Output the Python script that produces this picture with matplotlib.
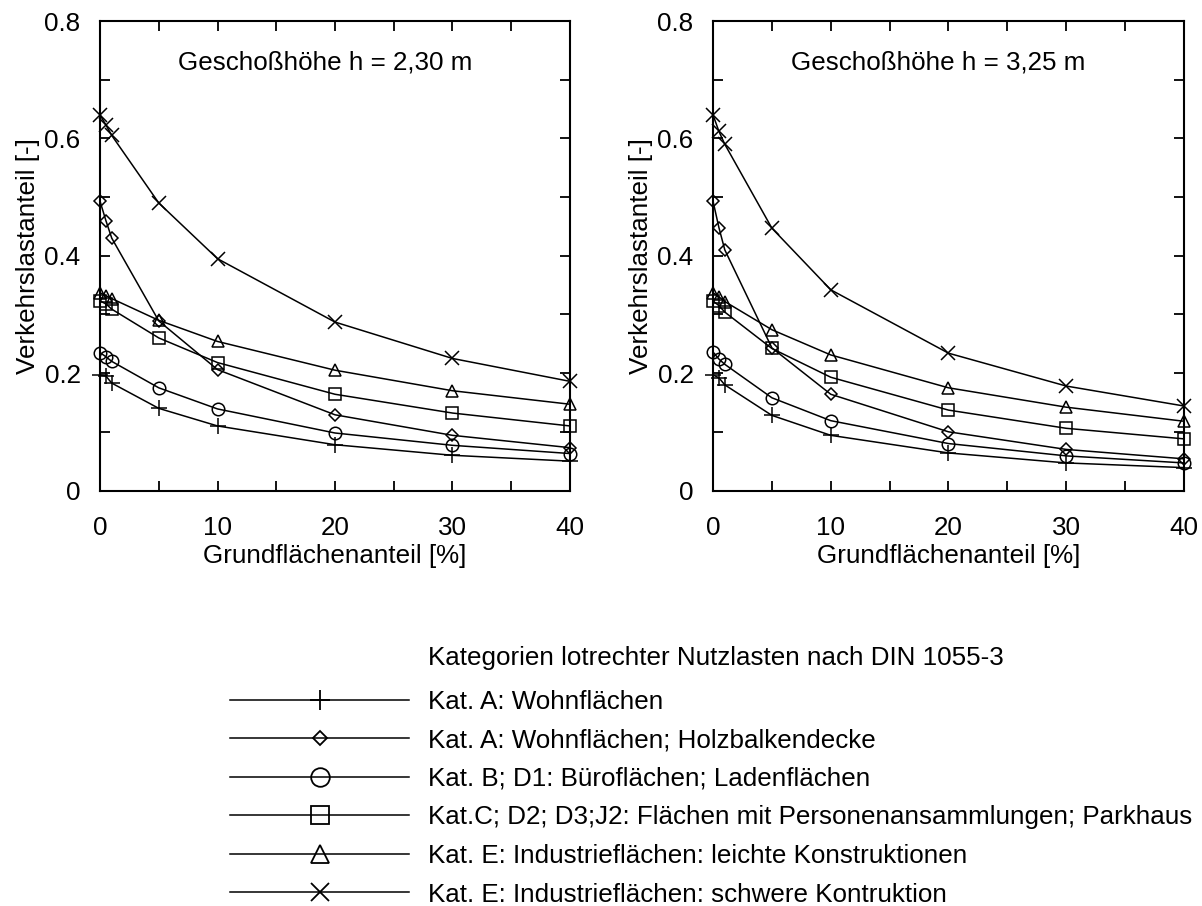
import numpy as np
import matplotlib.pyplot as plt
from matplotlib.lines import Line2D
from matplotlib.ticker import MultipleLocator, FuncFormatter

plt.rcParams['font.family'] = ['Liberation Sans', 'DejaVu Sans']
plt.rcParams['font.size'] = 18.7

# Grundflächenanteil [%]
x = [0, 0.5, 1, 5, 10, 20, 30, 40]

labels = ['Kat. A: Wohnflächen',
          'Kat. A: Wohnflächen; Holzbalkendecke',
          'Kat. B; D1: Büroflächen; Ladenflächen',
          'Kat.C; D2; D3;J2: Flächen mit Personenansammlungen; Parkhaus',
          'Kat. E: Industrieflächen: leichte Konstruktionen',
          'Kat. E: Industrieflächen: schwere Kontruktion']

# h = 2,30 m
a_wohn_230 = [0.197, 0.195, 0.183, 0.140, 0.110, 0.078, 0.060, 0.050]
a_holz_230 = [0.493, 0.460, 0.430, 0.289, 0.206, 0.129, 0.094, 0.073]
b_buero_230 = [0.235, 0.228, 0.220, 0.175, 0.139, 0.098, 0.077, 0.063]
c_pers_230 = [0.323, 0.318, 0.309, 0.260, 0.218, 0.164, 0.132, 0.110]
e_leicht_230 = [0.337, 0.332, 0.327, 0.290, 0.254, 0.205, 0.170, 0.147]
e_schwer_230 = [0.640, 0.623, 0.605, 0.490, 0.395, 0.287, 0.225, 0.186]

# h = 3,25 m
a_wohn_325 = [0.197, 0.192, 0.180, 0.128, 0.094, 0.064, 0.047, 0.039]
a_holz_325 = [0.493, 0.448, 0.410, 0.243, 0.164, 0.100, 0.070, 0.054]
b_buero_325 = [0.236, 0.224, 0.215, 0.158, 0.119, 0.080, 0.059, 0.047]
c_pers_325 = [0.323, 0.315, 0.304, 0.242, 0.193, 0.137, 0.106, 0.088]
e_leicht_325 = [0.337, 0.330, 0.322, 0.274, 0.231, 0.175, 0.142, 0.118]
e_schwer_325 = [0.640, 0.612, 0.590, 0.447, 0.342, 0.234, 0.178, 0.144]

data_230 = [a_wohn_230, a_holz_230, b_buero_230, c_pers_230, e_leicht_230, e_schwer_230]
data_325 = [a_wohn_325, a_holz_325, b_buero_325, c_pers_325, e_leicht_325, e_schwer_325]

# marker styles (plot / legend)
markers = ['+', 'D', 'o', 's', '^', 'x']
msizes = [12, 6, 9, 8, 8.5, 10.5]
msizes_leg = [14.5, 7.2, 13.4, 13.5, 12.5, 12.5]

fig = plt.figure(figsize=(12.02, 9.06), dpi=100)
ax1 = fig.add_axes([0.0832, 0.4586, 0.391, 0.5182])
ax2 = fig.add_axes([0.5932, 0.4586, 0.3918, 0.5182])


def fmt(v, pos):
    return '0' if v == 0 else '%g' % v


for ax, data, title in [(ax1, data_230, 'Geschoßhöhe h = 2,30 m'),
                        (ax2, data_325, 'Geschoßhöhe h = 3,25 m')]:
    for i in range(len(data)):
        ax.plot(x, data[i], color='black', lw=1.1, marker=markers[i],
                ms=msizes[i], mfc='none', mec='black', mew=1.1,
                clip_on=False, zorder=3)
    ax.set_xlim(0, 40)
    ax.set_ylim(0, 0.8)
    ax.xaxis.set_major_locator(MultipleLocator(10))
    ax.xaxis.set_minor_locator(MultipleLocator(5))
    ax.yaxis.set_major_locator(MultipleLocator(0.2))
    ax.yaxis.set_minor_locator(MultipleLocator(0.1))
    ax.yaxis.set_major_formatter(FuncFormatter(fmt))
    ax.tick_params(which='both', direction='in', top=True, right=True,
                   length=7, width=1.3)
    ax.tick_params(axis='x', which='major', pad=18)
    ax.tick_params(axis='y', which='major', pad=14)
    for s in ax.spines.values():
        s.set_linewidth(1.5)
    ax.set_xlabel('Grundflächenanteil [%]', labelpad=3)
    ax.set_ylabel('Verkehrslastanteil [-]', labelpad=3)
    ax.text(0.165, 0.911, title, transform=ax.transAxes, ha='left', va='center')

handles = []
for i in range(len(labels)):
    handles.append(Line2D([], [], color='black', lw=1.1, marker=markers[i],
                          ms=msizes_leg[i], mfc='none', mec='black', mew=1.3))

fig.text(0.356, 0.2737, 'Kategorien lotrechter Nutzlasten nach DIN 1055-3',
         ha='left', va='center')
fig.legend(handles, labels, loc='upper left', bbox_to_anchor=(0.1915, 0.2386),
           frameon=False, handlelength=6.9, handletextpad=0.72,
           labelspacing=0.56, borderpad=0, borderaxespad=0, numpoints=1)

fig.savefig('out.png', dpi=100)
